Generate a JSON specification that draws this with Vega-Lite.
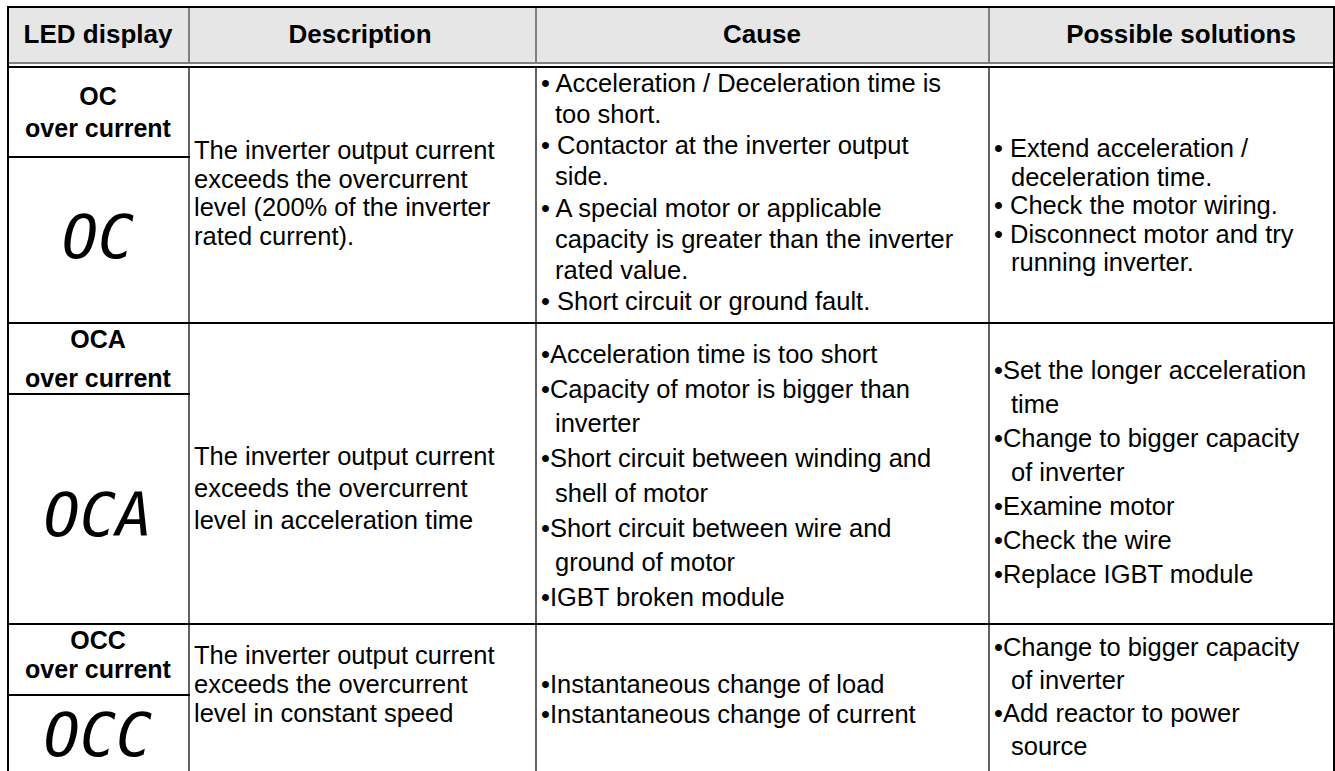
{
  "$schema": "https://vega.github.io/schema/vega-lite/v6.json",
  "width": 1335,
  "height": 771,
  "padding": 0,
  "autosize": {"type": "none"},
  "background": "#ffffff",
  "config": {"view": {"stroke": null}},
  "datasets": {
    "fills": [{"a": 0, "b": 4, "y1": 8, "y2": 63}],
    "lines": [
      {"kind": "frame", "a": 0, "b": 4, "y1": 7, "y2": 7},
      {"kind": "frame", "a": 0, "b": 4, "y1": 67, "y2": 67},
      {"kind": "frame", "a": 0, "b": 4, "y1": 323, "y2": 323},
      {"kind": "frame", "a": 0, "b": 4, "y1": 624, "y2": 624},
      {"kind": "frame", "a": 0, "b": 1, "y1": 157, "y2": 157},
      {"kind": "frame", "a": 0, "b": 1, "y1": 394, "y2": 394},
      {"kind": "frame", "a": 0, "b": 1, "y1": 695, "y2": 695},
      {"kind": "frame", "a": 0, "b": 0, "y1": 7, "y2": 771},
      {"kind": "frame", "a": 4, "b": 4, "y1": 7, "y2": 771},
      {"kind": "header", "a": 0, "b": 4, "y1": 63, "y2": 63},
      {"kind": "header", "a": 1, "b": 1, "y1": 7, "y2": 63},
      {"kind": "header", "a": 2, "b": 2, "y1": 7, "y2": 63},
      {"kind": "header", "a": 3, "b": 3, "y1": 7, "y2": 63},
      {"kind": "grid", "a": 1, "b": 1, "y1": 67, "y2": 771},
      {"kind": "grid", "a": 2, "b": 2, "y1": 67, "y2": 771},
      {"kind": "grid", "a": 3, "b": 3, "y1": 67, "y2": 771}
    ],
    "heads": [
      {"col": 0, "pos": 35, "text": "LED display"},
      {"col": 1, "pos": 35, "text": "Description"},
      {"col": 2, "pos": 35, "text": "Cause"},
      {"col": 3, "pos": 35, "text": "Possible solutions"}
    ],
    "labels": [
      {"col": 0, "pos": 97, "text": "OC"},
      {"col": 0, "pos": 129, "text": "over current"},
      {"col": 0, "pos": 340, "text": "OCA"},
      {"col": 0, "pos": 379, "text": "over current"},
      {"col": 0, "pos": 641, "text": "OCC"},
      {"col": 0, "pos": 670, "text": "over current"}
    ],
    "leds": [
      {"col": 0, "pos": 240, "text": "OC"},
      {"col": 0, "pos": 518, "text": "OCA"},
      {"col": 0, "pos": 738, "text": "OCC"}
    ],
    "body": [
      {"col": 1, "pos": 151, "kind": "item", "text": "The inverter output current"},
      {"col": 1, "pos": 179.5, "kind": "item", "text": "exceeds the overcurrent"},
      {"col": 1, "pos": 208, "kind": "item", "text": "level (200% of the inverter"},
      {"col": 1, "pos": 236.5, "kind": "item", "text": "rated current)."},
      {"col": 1, "pos": 457, "kind": "item", "text": "The inverter output current"},
      {"col": 1, "pos": 489, "kind": "item", "text": "exceeds the overcurrent"},
      {"col": 1, "pos": 521, "kind": "item", "text": "level in acceleration time"},
      {"col": 1, "pos": 656, "kind": "item", "text": "The inverter output current"},
      {"col": 1, "pos": 685, "kind": "item", "text": "exceeds the overcurrent"},
      {"col": 1, "pos": 714, "kind": "item", "text": "level in constant speed"},
      {"col": 2, "pos": 84, "kind": "item", "text": "• Acceleration / Deceleration time is"},
      {"col": 2, "pos": 115, "kind": "cont", "text": "too short."},
      {"col": 2, "pos": 146, "kind": "item", "text": "• Contactor at the inverter output"},
      {"col": 2, "pos": 177, "kind": "cont", "text": "side."},
      {"col": 2, "pos": 209, "kind": "item", "text": "• A special motor or applicable"},
      {"col": 2, "pos": 240, "kind": "cont", "text": "capacity is greater than the inverter"},
      {"col": 2, "pos": 271, "kind": "cont", "text": "rated value."},
      {"col": 2, "pos": 302, "kind": "item", "text": "• Short circuit or ground fault."},
      {"col": 2, "pos": 355, "kind": "item", "text": "•Acceleration time is too short"},
      {"col": 2, "pos": 390, "kind": "item", "text": "•Capacity of motor is bigger than"},
      {"col": 2, "pos": 424, "kind": "cont", "text": "inverter"},
      {"col": 2, "pos": 459, "kind": "item", "text": "•Short circuit between winding and"},
      {"col": 2, "pos": 494, "kind": "cont", "text": "shell of motor"},
      {"col": 2, "pos": 529, "kind": "item", "text": "•Short circuit between wire and"},
      {"col": 2, "pos": 563, "kind": "cont", "text": "ground of motor"},
      {"col": 2, "pos": 598, "kind": "item", "text": "•IGBT broken module"},
      {"col": 2, "pos": 685, "kind": "item", "text": "•Instantaneous change of load"},
      {"col": 2, "pos": 715, "kind": "item", "text": "•Instantaneous change of current"},
      {"col": 3, "pos": 149, "kind": "item", "text": "• Extend acceleration /"},
      {"col": 3, "pos": 177.5, "kind": "cont", "text": "deceleration time."},
      {"col": 3, "pos": 206, "kind": "item", "text": "• Check the motor wiring."},
      {"col": 3, "pos": 234.5, "kind": "item", "text": "• Disconnect motor and try"},
      {"col": 3, "pos": 263, "kind": "cont", "text": "running inverter."},
      {"col": 3, "pos": 371, "kind": "item", "text": "•Set the longer acceleration"},
      {"col": 3, "pos": 405, "kind": "cont", "text": "time"},
      {"col": 3, "pos": 439, "kind": "item", "text": "•Change to bigger capacity"},
      {"col": 3, "pos": 473, "kind": "cont", "text": "of inverter"},
      {"col": 3, "pos": 507, "kind": "item", "text": "•Examine motor"},
      {"col": 3, "pos": 541, "kind": "item", "text": "•Check the wire"},
      {"col": 3, "pos": 575, "kind": "item", "text": "•Replace IGBT module"},
      {"col": 3, "pos": 648, "kind": "item", "text": "•Change to bigger capacity"},
      {"col": 3, "pos": 681, "kind": "cont", "text": "of inverter"},
      {"col": 3, "pos": 714, "kind": "item", "text": "•Add reactor to power"},
      {"col": 3, "pos": 747, "kind": "cont", "text": "source"}
    ]
  },
  "layer": [
    {
      "layer": [
        {
          "data": {"name": "fills"},
          "mark": {"type": "rect", "color": "#e6e6e6"},
          "encoding": {
            "x": {"field": "a", "type": "quantitative", "axis": null, "scale": {"domain": [0, 1, 2, 3, 4], "range": [8, 189, 536, 989, 1334], "nice": false, "zero": false}},
            "x2": {"field": "b"},
            "y": {"field": "y1", "type": "quantitative", "axis": null, "scale": {"domain": [0, 771], "reverse": true, "nice": false, "zero": false}},
            "y2": {"field": "y2"}
          }
        },
        {
          "data": {"name": "lines"},
          "transform": [{"filter": "datum.kind === 'header'"}],
          "mark": {"type": "rule", "color": "#808080", "strokeWidth": 2},
          "encoding": {
            "x": {"field": "a", "type": "quantitative", "axis": null, "scale": {"domain": [0, 1, 2, 3, 4], "range": [8, 189, 536, 989, 1334], "nice": false, "zero": false}},
            "x2": {"field": "b"},
            "y": {"field": "y1", "type": "quantitative", "axis": null, "scale": {"domain": [0, 771], "reverse": true, "nice": false, "zero": false}},
            "y2": {"field": "y2"}
          }
        },
        {
          "data": {"name": "lines"},
          "transform": [{"filter": "datum.kind === 'grid'"}],
          "mark": {"type": "rule", "color": "#3a3a3a", "strokeWidth": 1.6},
          "encoding": {
            "x": {"field": "a", "type": "quantitative", "axis": null, "scale": {"domain": [0, 1, 2, 3, 4], "range": [8, 189, 536, 989, 1334], "nice": false, "zero": false}},
            "x2": {"field": "b"},
            "y": {"field": "y1", "type": "quantitative", "axis": null, "scale": {"domain": [0, 771], "reverse": true, "nice": false, "zero": false}},
            "y2": {"field": "y2"}
          }
        },
        {
          "data": {"name": "lines"},
          "transform": [{"filter": "datum.kind === 'frame'"}],
          "mark": {"type": "rule", "color": "#000000", "strokeWidth": 2, "strokeCap": "square"},
          "encoding": {
            "x": {"field": "a", "type": "quantitative", "axis": null, "scale": {"domain": [0, 1, 2, 3, 4], "range": [8, 189, 536, 989, 1334], "nice": false, "zero": false}},
            "x2": {"field": "b"},
            "y": {"field": "y1", "type": "quantitative", "axis": null, "scale": {"domain": [0, 771], "reverse": true, "nice": false, "zero": false}},
            "y2": {"field": "y2"}
          }
        }
      ]
    },
    {
      "layer": [
        {
          "data": {"name": "heads"},
          "mark": {"type": "text", "font": "Liberation Sans", "fontWeight": "bold", "fontSize": 26, "align": "center", "baseline": "middle", "color": "#000000"},
          "encoding": {
            "x": {"field": "col", "type": "quantitative", "axis": null, "scale": {"domain": [0, 1, 2, 3], "range": [98, 360, 762, 1181], "nice": false, "zero": false}},
            "y": {"field": "pos", "type": "quantitative", "axis": null, "scale": {"domain": [0, 771], "reverse": true, "nice": false, "zero": false}},
            "text": {"field": "text"}
          }
        },
        {
          "data": {"name": "labels"},
          "mark": {"type": "text", "font": "Liberation Sans", "fontWeight": "bold", "fontSize": 25, "align": "center", "baseline": "middle", "color": "#000000"},
          "encoding": {
            "x": {"field": "col", "type": "quantitative", "axis": null, "scale": {"domain": [0, 1, 2, 3], "range": [98, 360, 762, 1181], "nice": false, "zero": false}},
            "y": {"field": "pos", "type": "quantitative", "axis": null, "scale": {"domain": [0, 771], "reverse": true, "nice": false, "zero": false}},
            "text": {"field": "text"}
          }
        },
        {
          "data": {"name": "leds"},
          "mark": {"type": "text", "font": "DejaVu Sans Mono", "fontStyle": "oblique", "fontSize": 60, "align": "center", "baseline": "middle", "color": "#000000"},
          "encoding": {
            "x": {"field": "col", "type": "quantitative", "axis": null, "scale": {"domain": [0, 1, 2, 3], "range": [98, 360, 762, 1181], "nice": false, "zero": false}},
            "y": {"field": "pos", "type": "quantitative", "axis": null, "scale": {"domain": [0, 771], "reverse": true, "nice": false, "zero": false}},
            "text": {"field": "text"}
          }
        }
      ]
    },
    {
      "layer": [
        {
          "data": {"name": "body"},
          "transform": [{"filter": "datum.kind === 'item'"}],
          "mark": {"type": "text", "font": "Liberation Sans", "fontSize": 25.5, "align": "left", "baseline": "middle", "color": "#000000"},
          "encoding": {
            "x": {"field": "col", "type": "quantitative", "axis": null, "scale": {"domain": [1, 2, 3], "range": [194, 541, 994], "nice": false, "zero": false}},
            "y": {"field": "pos", "type": "quantitative", "axis": null, "scale": {"domain": [0, 771], "reverse": true, "nice": false, "zero": false}},
            "text": {"field": "text"}
          }
        },
        {
          "data": {"name": "body"},
          "transform": [{"filter": "datum.kind === 'cont' && datum.col === 2"}],
          "mark": {"type": "text", "font": "Liberation Sans", "fontSize": 25.5, "align": "left", "baseline": "middle", "color": "#000000", "dx": 14},
          "encoding": {
            "x": {"field": "col", "type": "quantitative", "axis": null, "scale": {"domain": [1, 2, 3], "range": [194, 541, 994], "nice": false, "zero": false}},
            "y": {"field": "pos", "type": "quantitative", "axis": null, "scale": {"domain": [0, 771], "reverse": true, "nice": false, "zero": false}},
            "text": {"field": "text"}
          }
        },
        {
          "data": {"name": "body"},
          "transform": [{"filter": "datum.kind === 'cont' && datum.col === 3"}],
          "mark": {"type": "text", "font": "Liberation Sans", "fontSize": 25.5, "align": "left", "baseline": "middle", "color": "#000000", "dx": 17},
          "encoding": {
            "x": {"field": "col", "type": "quantitative", "axis": null, "scale": {"domain": [1, 2, 3], "range": [194, 541, 994], "nice": false, "zero": false}},
            "y": {"field": "pos", "type": "quantitative", "axis": null, "scale": {"domain": [0, 771], "reverse": true, "nice": false, "zero": false}},
            "text": {"field": "text"}
          }
        }
      ]
    }
  ],
  "resolve": {"scale": {"x": "independent"}}
}
